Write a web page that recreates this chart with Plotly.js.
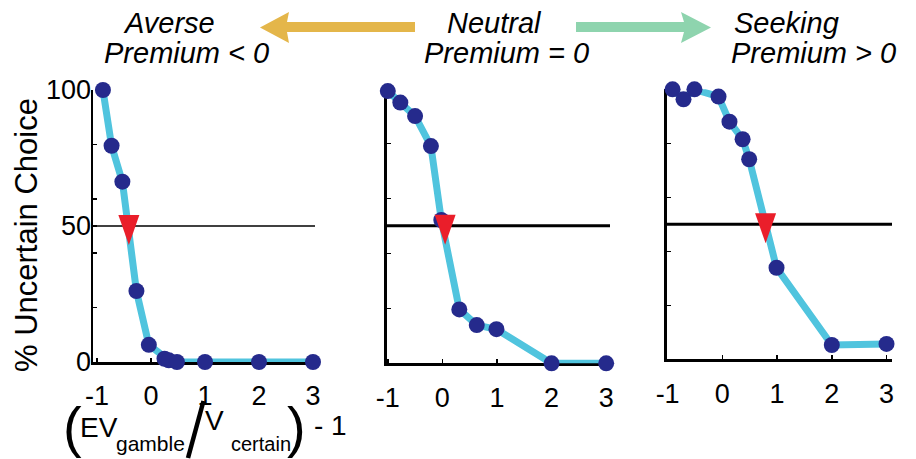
<!DOCTYPE html>
<html><head><meta charset="utf-8">
<script src="https://cdn.plot.ly/plotly-3.0.1.min.js"></script>
<style>html,body{margin:0;padding:0;background:#fff}</style>
</head><body><div id="chart" style="width:916px;height:459px"></div>
<script>
// ---------------- data ----------------
const xTickVals = [-1, 0, 1, 2, 3];
const xTickText = ['-1', '0', '1', '2', '3'];
const yTickVals = [0, 20, 40, 50, 60, 80, 100];
const yTickText = ['0', '', '', '50', '', '', '100'];
const refLevel = 50;

const averseX = [-0.89, -0.73, -0.53, -0.27, -0.04, 0.25, 0.33, 0.48, 1, 2, 3];
const averseY = [100, 79.5, 66.3, 26.1, 6.3, 1.2, 0.6, 0, 0, 0, 0];
const averseIndiff = -0.41;

const neutralX = [-1, -0.77, -0.5, -0.21, -0.02, 0.31, 0.63, 0.99, 2, 3];
const neutralY = [99, 94.8, 89.9, 79, 52.1, 19.6, 13.9, 12.4, 0, 0];
const neutralIndiff = 0.05;

const seekingX = [-0.91, -0.71, -0.51, -0.07, 0.13, 0.37, 0.49, 0.99, 2, 3];
const seekingY = [100, 96.3, 100, 97.3, 88, 81.5, 74.1, 33.9, 5.3, 5.7];
const seekingIndiff = 0.79;

const panelTop = ['Averse', 'Neutral', 'Seeking'];
const panelBottom = ['Premium < 0', 'Premium = 0', 'Premium > 0'];
const yTitle = '% Uncertain Choice';
const xTitleParts = ['(', 'EV', 'gamble', 'V', 'certain', ')', '- 1'];

// ---------------- styling / layout helpers ----------------
const W = 916, H = 459;
const PX = v => v / W;
const PY = v => 1 - v / H;
const FONT = 'Liberation Sans, Arial, Helvetica, sans-serif';
const NAVY = 'rgb(37,42,140)';
const CYAN = 'rgb(80,196,222)';
const RED = 'rgb(234,30,42)';

const panels = [
  {x: averseX, y: averseY, ind: averseIndiff, xd: [93, 315], xr: [-1.074, 3.037], yd: [362, 90], lw: 2.5, hw: 1.5},
  {x: neutralX, y: neutralY, ind: neutralIndiff, xd: [386.7, 610], xr: [-1.02, 3.07], yd: [363.3, 88.3], lw: 3, hw: 3},
  {x: seekingX, y: seekingY, ind: seekingIndiff, xd: [666.7, 892], xr: [-1.017, 3.1], yd: [359.3, 89.3], lw: 3, hw: 3}
];

const traces = [];
const layout = {
  width: W, height: H,
  margin: {l: 0, r: 0, t: 0, b: 0},
  paper_bgcolor: '#fff', plot_bgcolor: 'rgba(0,0,0,0)',
  showlegend: false,
  font: {family: FONT, color: '#000'},
  shapes: [], annotations: []
};

panels.forEach((p, i) => {
  const n = i === 0 ? '' : String(i + 1);
  const xa = 'x' + n, ya = 'y' + n;
  traces.push({
    type: 'scatter', mode: 'lines+markers', x: p.x, y: p.y, xaxis: xa, yaxis: ya,
    line: {color: CYAN, width: 7},
    marker: {color: NAVY, size: 16, line: {width: 0}},
    cliponaxis: false, hoverinfo: 'skip'
  });
  layout['xaxis' + n] = {
    domain: [PX(p.xd[0]), PX(p.xd[1])], range: p.xr, anchor: ya,
    showline: true, linecolor: '#000', linewidth: p.lw,
    ticks: 'inside', ticklen: 4, tickwidth: 1.5, tickcolor: '#000',
    tickvals: xTickVals, ticktext: xTickText,
    tickfont: {size: 27, family: FONT, color: '#000'},
    ticklabelstandoff: 8,
    showgrid: false, zeroline: false, fixedrange: true, layer: 'below traces'
  };
  layout['yaxis' + n] = {
    domain: [PY(p.yd[0]), PY(p.yd[1])], range: [0, 100], anchor: xa,
    showline: true, linecolor: '#000', linewidth: p.lw,
    ticks: 'inside', ticklen: 4, tickwidth: 1.5, tickcolor: '#000',
    tickvals: yTickVals, ticktext: i === 0 ? yTickText : yTickVals.map(() => ''),
    tickfont: {size: 27, family: FONT, color: '#000'},
    ticklabelstandoff: -6,
    showgrid: false, zeroline: false, fixedrange: true, layer: 'below traces'
  };
  // reference level line at 50 %
  layout.shapes.push({type: 'line', xref: xa + ' domain', yref: ya, x0: 0, x1: 1, y0: refLevel, y1: refLevel,
    line: {color: '#000', width: p.hw}, layer: 'below'});
  // indifference point marker (tall red down-triangle)
  layout.shapes.push({type: 'path', xref: xa, yref: ya, xsizemode: 'pixel', ysizemode: 'pixel',
    xanchor: p.ind, yanchor: refLevel, path: 'M-10.5,11 L10.5,11 L0,-19 Z',
    fillcolor: RED, line: {width: 0}, layer: 'above'});
});

// top labels
const topCenters = [[168.5, 186.5], [494, 506.5], [786, 813]];
panelTop.forEach((t, i) => {
  layout.annotations.push({xref: 'paper', yref: 'paper', x: PX(topCenters[i][0]), y: PY(22.5),
    xanchor: 'center', yanchor: 'middle', text: '<i>' + t + '</i>', showarrow: false,
    font: {size: 29, family: FONT, color: '#000'}});
  layout.annotations.push({xref: 'paper', yref: 'paper', x: PX(topCenters[i][1]), y: PY(53),
    xanchor: 'center', yanchor: 'middle', text: '<i>' + panelBottom[i] + '</i>', showarrow: false,
    font: {size: 29, family: FONT, color: '#000'}});
});

// arrows
function poly(pts) {
  return 'M' + pts.map(p => PX(p[0]).toFixed(5) + ',' + PY(p[1]).toFixed(5)).join(' L') + ' Z';
}
layout.shapes.push({type: 'path', xref: 'paper', yref: 'paper', fillcolor: 'rgb(228,182,74)', line: {width: 0},
  path: poly([[415, 22], [287, 22], [289, 12], [260, 27.5], [289, 43], [287, 32], [415, 32]])});
layout.shapes.push({type: 'path', xref: 'paper', yref: 'paper', fillcolor: 'rgb(142,212,174)', line: {width: 0},
  path: poly([[576, 22], [684, 22], [681, 12], [711, 27.5], [681, 43], [684, 32], [576, 32]])});

// y title
layout.annotations.push({xref: 'paper', yref: 'paper', x: PX(26), y: PY(235), xanchor: 'center', yanchor: 'middle',
  text: yTitle, textangle: -90, showarrow: false, font: {size: 31, family: FONT, color: '#000'}});

// x title pieces: [text, centerX, middleY, size]
const xParts = [
  [xTitleParts[0], 72.5, 426, 56],
  [xTitleParts[1], 98.5, 427, 28],
  [xTitleParts[2], 150, 443.6, 21],
  [xTitleParts[3], 214, 420, 28],
  [xTitleParts[4], 261, 443.6, 20],
  [xTitleParts[5], 296, 426, 56],
  [xTitleParts[6], 330, 425, 28]
];
xParts.forEach(p => {
  layout.annotations.push({xref: 'paper', yref: 'paper', x: PX(p[1]), y: PY(p[2]), xanchor: 'center', yanchor: 'middle',
    text: p[0], showarrow: false, font: {size: p[3], family: FONT, color: '#000'}, borderpad: 0});
});
// fraction slash
layout.shapes.push({type: 'line', xref: 'paper', yref: 'paper', x0: PX(188), y0: PY(458), x1: PX(203.5), y1: PY(401),
  line: {color: '#000', width: 4.5}});

Plotly.newPlot('chart', traces, layout, {staticPlot: true, displayModeBar: false});
</script>
</body></html>
